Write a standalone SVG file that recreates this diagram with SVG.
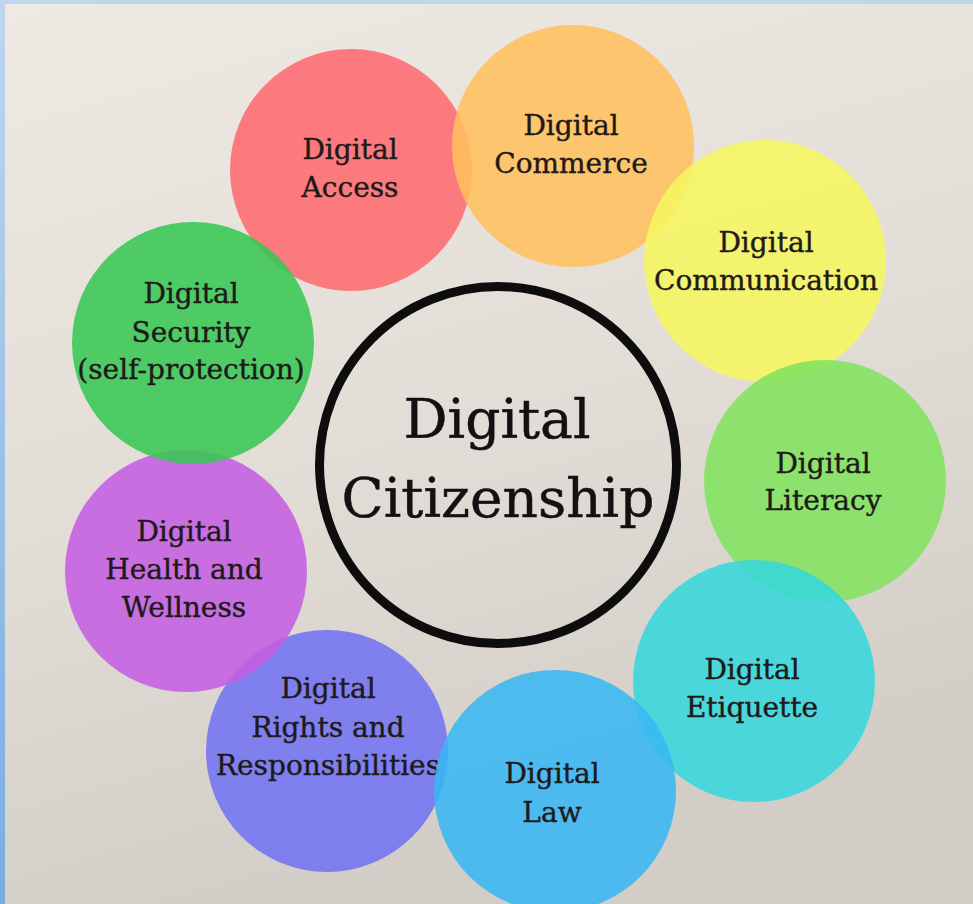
<svg xmlns="http://www.w3.org/2000/svg" width="973" height="904" viewBox="0 0 973 904">
  <defs>
    <linearGradient id="bg" x1="0" y1="0" x2="0.3" y2="1">
      <stop offset="0" stop-color="#efe9e4"/>
      <stop offset="0.55" stop-color="#e3ddd8"/>
      <stop offset="1" stop-color="#d3cdc8"/>
    </linearGradient>
    <linearGradient id="edge" x1="0" y1="0" x2="0" y2="1">
      <stop offset="0" stop-color="#bfd6ef"/>
      <stop offset="1" stop-color="#78ade2"/>
    </linearGradient>
    <style>
      .bubble { opacity: 0.88; }
      .lbl { font-family: "DejaVu Serif", "Liberation Serif", serif; font-size: 28px; fill: #1f1a1a; stroke: #1f1a1a; stroke-width: 0.4px; text-anchor: middle; }
      .hub { font-family: "DejaVu Serif", "Liberation Serif", serif; font-size: 55px; fill: #111; stroke: #111; stroke-width: 0.5px; text-anchor: middle; }
    </style>
  </defs>

  <rect x="0" y="0" width="973" height="904" fill="url(#bg)"/>
  <rect x="0" y="0" width="5" height="904" fill="url(#edge)"/>
  <rect x="0" y="0" width="973" height="4" fill="#bfd6ef"/>

  <g id="connectors"></g>

  <g id="node-access">
    <circle class="bubble" cx="351" cy="170" r="121" fill="#fe6b71"/>
    <text class="lbl" x="350" y="159">Digital</text>
    <text class="lbl" x="350" y="197">Access</text>
  </g>
  <g id="node-commerce">
    <circle class="bubble" cx="573" cy="146" r="121" fill="#ffc05d"/>
    <text class="lbl" x="571" y="135">Digital</text>
    <text class="lbl" x="571" y="173">Commerce</text>
  </g>
  <g id="node-communication">
    <circle class="bubble" cx="765" cy="261" r="121" fill="#f6f65f"/>
    <text class="lbl" x="766" y="252">Digital</text>
    <text class="lbl" x="766" y="290">Communication</text>
  </g>
  <g id="node-literacy">
    <circle class="bubble" cx="825" cy="481" r="121" fill="#82e35f"/>
    <text class="lbl" x="823" y="473">Digital</text>
    <text class="lbl" x="823" y="510">Literacy</text>
  </g>
  <g id="node-etiquette">
    <circle class="bubble" cx="754" cy="681" r="121" fill="#37d7dc"/>
    <text class="lbl" x="752" y="679">Digital</text>
    <text class="lbl" x="752" y="717">Etiquette</text>
  </g>
  <g id="node-rights">
    <circle class="bubble" cx="327" cy="751" r="121" fill="#7273f3"/>
    <text class="lbl" x="328" y="698">Digital</text>
    <text class="lbl" x="328" y="737">Rights and</text>
    <text class="lbl" x="328" y="775">Responsibilities</text>
  </g>
  <g id="node-law">
    <circle class="bubble" cx="555" cy="791" r="121" fill="#39b7f3"/>
    <text class="lbl" x="552" y="783">Digital</text>
    <text class="lbl" x="552" y="822">Law</text>
  </g>
  <g id="node-health">
    <circle class="bubble" cx="186" cy="571" r="121" fill="#c45ee3"/>
    <text class="lbl" x="184" y="541">Digital</text>
    <text class="lbl" x="184" y="579">Health and</text>
    <text class="lbl" x="184" y="617">Wellness</text>
  </g>
  <g id="node-security">
    <circle class="bubble" cx="193" cy="343" r="121" fill="#39c754"/>
    <text class="lbl" x="191" y="303">Digital</text>
    <text class="lbl" x="191" y="342">Security</text>
    <text class="lbl" x="191" y="379">(self-protection)</text>
  </g>

  <g id="node-center">
    <circle cx="498" cy="465" r="178.5" fill="none" stroke="#0d0d0d" stroke-width="9"/>
    <text class="hub" x="497" y="438">Digital</text>
    <text class="hub" x="498" y="517">Citizenship</text>
  </g>
</svg>
